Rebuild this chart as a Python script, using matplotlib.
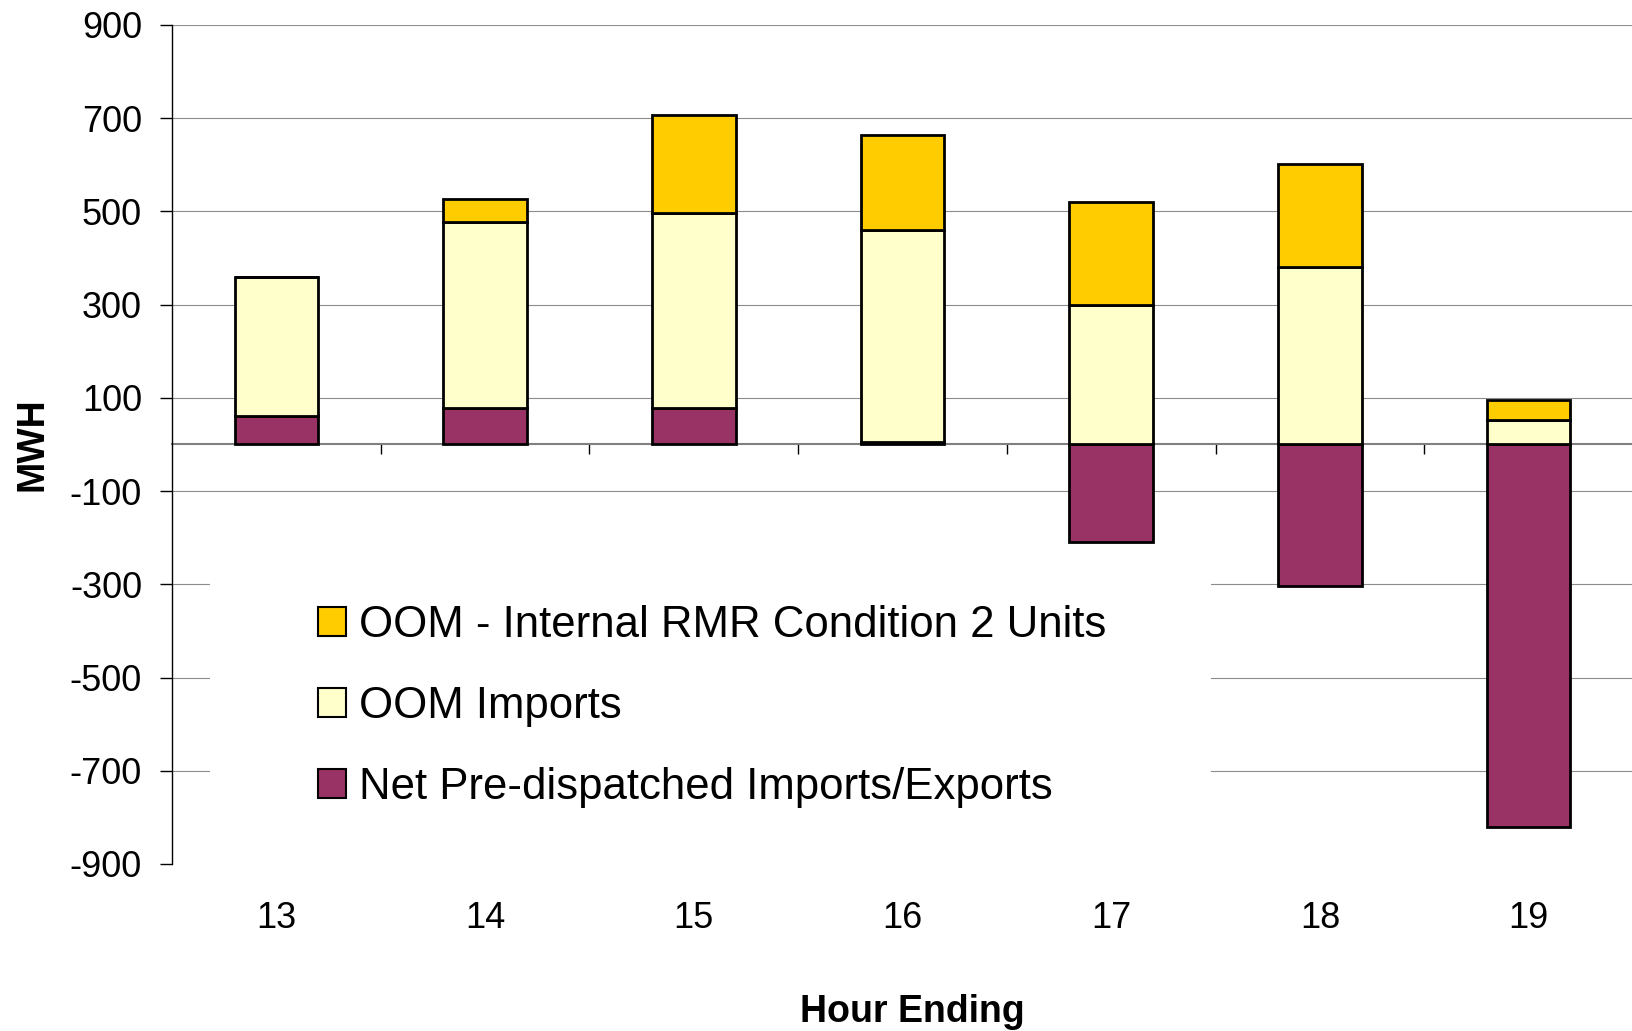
import matplotlib
matplotlib.use('Agg')
import matplotlib.pyplot as plt
import numpy as np
from matplotlib.patches import Rectangle

# Data (MWH per hour ending)
hours = ['13', '14', '15', '16', '17', '18', '19']
net_pre_dispatched = [60, 78, 78, 5, -210, -303, -820]
oom_imports = [300, 400, 418, 455, 300, 380, 53]
oom_rmr_cond2 = [0, 49, 210, 204, 221, 221, 43]

labels = ['OOM - Internal RMR Condition 2 Units', 'OOM Imports',
          'Net Pre-dispatched Imports/Exports']
colors = ['#FFCC00', '#FFFFCC', '#993366']

plt.rcParams['font.family'] = ['Liberation Sans', 'DejaVu Sans']
plt.rcParams['axes.unicode_minus'] = False

fig = plt.figure(figsize=(16.33, 10.31), dpi=100)
ax = fig.add_axes([0.1053, 0.162, 0.8947, 0.8138])

x = np.arange(len(hours))
net = np.array(net_pre_dispatched)
imp = np.array(oom_imports)
rmr = np.array(oom_rmr_cond2)
imp_base = np.clip(net, 0, None)

bar_kw = dict(width=0.4, edgecolor='black', linewidth=2)
b_net = ax.bar(x, net, color=colors[2], **bar_kw)
b_imp = ax.bar(x, imp, bottom=imp_base, color=colors[1], **bar_kw)
b_rmr = ax.bar(x, rmr, bottom=imp_base + imp, color=colors[0], **bar_kw)

# axes
ax.set_xlim(-0.5, len(hours) - 0.5)
ax.set_ylim(-900, 900)
ax.set_yticks(np.arange(-900, 901, 200))
ax.yaxis.grid(True, color='#8c8c8c', linewidth=0.8)
ax.set_axisbelow(True)
ax.yaxis.get_major_ticks()[0].gridline.set_visible(False)

for s in ['top', 'right', 'bottom']:
    ax.spines[s].set_visible(False)
ax.spines['left'].set_linewidth(1)
ax.tick_params(axis='y', direction='out', length=8.5, width=1, pad=13, labelsize=26)

ax.set_xticks(x)
ax.set_xticklabels(hours)
ax.tick_params(axis='x', length=0, pad=27, labelsize=26)

ax.set_xlabel('Hour Ending', fontsize=27, fontweight='bold', labelpad=44)
ax.xaxis.set_label_coords(0.507, -0.155)
ax.set_ylabel('MWH', fontsize=27, fontweight='bold', labelpad=14)

# zero line with category boundary ticks
sec = ax.secondary_xaxis(0.5)
sec.set_alignment('bottom')
sec.set_xticks(x[:-1] + 0.5)
sec.tick_params(axis='x', direction='out', length=7, width=1, labelbottom=False)
sec.spines['bottom'].set_color('#808080')
sec.spines['bottom'].set_linewidth(1.5)
sec.set_zorder(0.95)

# white area behind the legend (hides gridlines there)
ax.add_patch(Rectangle((0.026, 0.0), 0.685, 0.39, transform=ax.transAxes,
                       facecolor='white', edgecolor='none', zorder=0.9))

leg = ax.legend([b_rmr, b_imp, b_net], labels, loc='upper left',
                bbox_to_anchor=(0.1, 0.309), frameon=False, fontsize=31.5,
                borderpad=0, borderaxespad=0, handlelength=0.64,
                handleheight=0.64, handletextpad=0.3, labelspacing=0.92)
for h in leg.legend_handles:
    h.set_linewidth(1.5)

fig.savefig('out.png', dpi=100)
